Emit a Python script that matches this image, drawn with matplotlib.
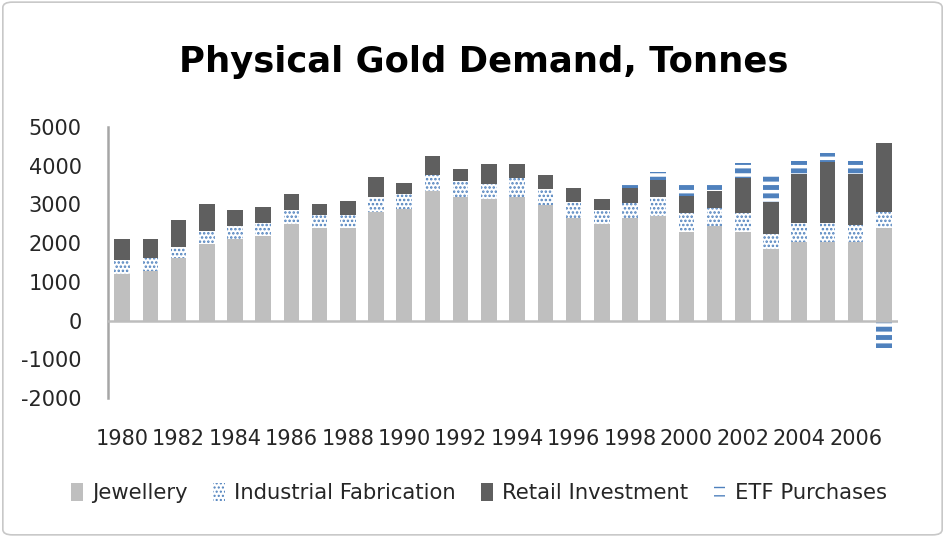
import matplotlib
matplotlib.use("Agg")
import matplotlib.pyplot as plt
from matplotlib.patches import FancyBboxPatch
import numpy as np

years = list(range(1980, 2008))
jewellery = [1210, 1270, 1610, 1970, 2100, 2180, 2500, 2400, 2400, 2810,
             2870, 3350, 3200, 3135, 3200, 2990, 2640, 2500, 2640, 2700,
             2295, 2443, 2295, 1840, 2036, 2036, 2036, 2383]
industrial = [350, 350, 290, 345, 345, 350, 355, 330, 320, 390,
              395, 400, 410, 405, 490, 405, 420, 355, 405, 490,
              490, 475, 490, 390, 490, 490, 430, 430]
retail = [550, 490, 700, 690, 420, 410, 425, 280, 365, 500,
          300, 500, 295, 500, 345, 370, 355, 280, 370, 435,
          430, 430, 905, 845, 1255, 1580, 1315, 1785]
etf = [0, 0, 0, 0, 0, 0, 0, 0, 0, 0,
       0, 0, 0, 0, 0, 0, 0, 0, 140, 215,
       290, 215, 390, 690, 330, 220, 330, -720]
ytick_vals = [-2000, -1000, 0, 1000, 2000, 3000, 4000, 5000]
ytick_labels = ["-2000", "-1000", "0", "1000", "2000", "3000", "4000", "5000"]
xtick_labels = [str(y) for y in years[::2] if y <= 2006]

plt.rcParams['axes.unicode_minus'] = False
plt.rcParams['font.family'] = ['DejaVu Sans']

fig = plt.figure(figsize=(9.45, 5.37), dpi=100)
ax = fig.add_axes([108/945, 1-398/537, 790/945, (398-127)/537])

x = np.arange(len(years))
jw = np.array(jewellery)
ind = np.array(industrial)
ret = np.array(retail)
et = np.array(etf)
w = 0.55
blue = '#4F81BD'

ax.bar(x, jw, w, color='#BFBFBF', linewidth=0, label='Jewellery')
with plt.rc_context({'hatch.linewidth': 1.2}):
    ax.bar(x, ind, w, bottom=jw, facecolor='white', edgecolor=blue,
           linewidth=0, hatch='....', label='Industrial Fabrication')
ax.bar(x, ret, w, bottom=jw + ind, color='#5F5F5F', linewidth=0,
       label='Retail Investment')
etf_bottom = np.where(et >= 0, jw + ind + ret, 0)
with plt.rc_context({'hatch.linewidth': 3.5}):
    ax.bar(x, et, w, bottom=etf_bottom, facecolor='white', edgecolor=blue,
           linewidth=0, hatch='--', label='ETF Purchases')

ax.set_xlim(-0.5, len(years) - 0.5)
ax.set_ylim(-2000, 5000)
ax.axhline(0, color='#BDBDBD', linewidth=1.8, zorder=3)
for s in ['top', 'right', 'bottom']:
    ax.spines[s].set_visible(False)
ax.spines['left'].set_color('#A6A6A6')
ax.spines['left'].set_linewidth(1.8)

ax.set_yticks(ytick_vals)
ax.set_yticklabels(ytick_labels)
ax.set_xticks(x[::2][:len(xtick_labels)])
ax.set_xticklabels(xtick_labels)
ax.tick_params(axis='both', length=0, labelsize=15, labelcolor='#262626')
ax.tick_params(axis='y', pad=19)
ax.tick_params(axis='x', pad=22)

fig.text(484/945, 1-62/537, 'Physical Gold Demand, Tonnes', ha='center',
         va='center', fontsize=25.5, fontweight='bold', color='black')

leg = fig.legend(loc='center', bbox_to_anchor=(479/945, 1-493/537), ncol=4,
                 frameon=False, fontsize=15.2, handlelength=0.55,
                 handleheight=0.9, handletextpad=0.45, columnspacing=1.2,
                 labelcolor='#262626')

border = FancyBboxPatch((0.003, 0.004), 0.994, 0.992,
                        boxstyle='round,pad=0,rounding_size=0.01',
                        transform=fig.transFigure, facecolor='none',
                        edgecolor='#C8C8C8', linewidth=1.2)
fig.patches.append(border)

fig.savefig('out.png', dpi=100)
